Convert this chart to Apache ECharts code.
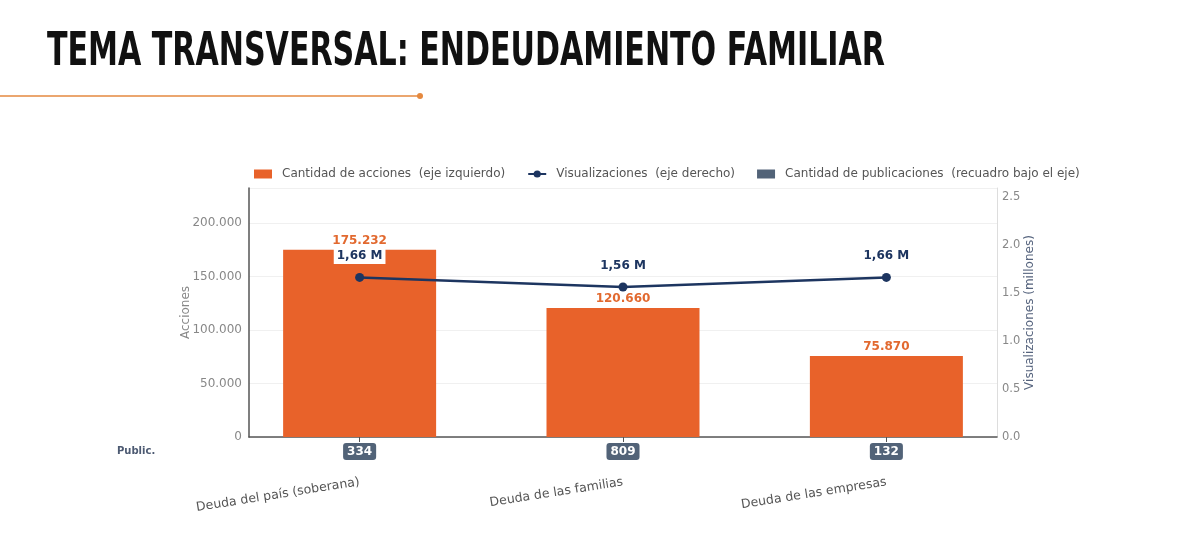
<!DOCTYPE html>
<html>
<head>
<meta charset="utf-8">
<script src="https://cdn.jsdelivr.net/npm/echarts@6/dist/echarts.min.js"></script>
<style>
html,body{margin:0;padding:0;background:#fff;}
#main{width:1200px;height:534px;}
</style>
</head>
<body>
<div id="main"></div>
<script>
// datos del grafico
var categorias = ['Deuda del país (soberana)', 'Deuda de las familias', 'Deuda de las empresas'];
var acciones = [175232, 120660, 75870];
var visualizaciones = [1.66, 1.56, 1.66]; // millones
var publicaciones = [334, 809, 132];
var ticksAcciones = [0, 50000, 100000, 150000, 200000];
var ticksVisual = [0, 0.5, 1, 1.5, 2, 2.5];

var titulo = 'TEMA TRANSVERSAL: ENDEUDAMIENTO FAMILIAR';

function miles(v){
	return String(Math.round(v)).replace(/\B(?=(\d{3})+(?!\d))/g, '.');
}

// ancho del titulo para comprimir la fuente (no hay fuente condensada)
var fuenteTitulo = 'bold 47px "DejaVu Sans"';
var cv = document.createElement('canvas').getContext('2d');
cv.font = fuenteTitulo;
var escalaTitulo = 838 / cv.measureText(titulo).width;

var idx = categorias.map(function(c, i){ return i; });

var myChart = echarts.init(document.getElementById('main'));
var option = {
	backgroundColor: '#fff',
	animation: false,
	textStyle: { fontFamily: 'DejaVu Sans' },
	graphic: [
		{
			type: 'text',
			x: 47, y: 53,
			scaleX: escalaTitulo,
			style: {
				text: titulo,
				font: fuenteTitulo,
				fill: '#111',
				verticalAlign: 'middle'
			}
		},
		{
			type: 'line',
			shape: { x1: 0, y1: 96, x2: 420, y2: 96 },
			style: { stroke: '#e5893f', lineWidth: 1.5 }
		},
		{
			type: 'circle',
			shape: { cx: 420, cy: 96, r: 3 },
			style: { fill: '#e5893f' }
		},
		{
			type: 'text',
			left: 117, top: 446,
			style: {
				text: 'Public.',
				font: 'bold 10px "DejaVu Sans"',
				fill: '#4d5a72'
			}
		}
	],
	legend: {
		top: 163,
		left: 249,
		itemWidth: 18,
		itemHeight: 9,
		itemGap: 22,
		textStyle: { color: '#555', fontSize: 12, padding: [0, 0, 0, 5] },
		data: [
			{ name: 'Cantidad de acciones  (eje izquierdo)', icon: 'rect' },
			{ name: 'Visualizaciones  (eje derecho)' },
			{ name: 'Cantidad de publicaciones  (recuadro bajo el eje)', icon: 'rect' }
		]
	},
	grid: { left: 249, right: 203, top: 188, bottom: 97 },
	xAxis: {
		type: 'value',
		min: -0.42,
		max: 2.42,
		splitLine: { show: false },
		axisLine: { show: true, onZero: false, lineStyle: { color: '#555', width: 1.5 } },
		axisTick: { show: true, length: 5, customValues: idx, lineStyle: { color: '#555' } },
		axisLabel: {
			customValues: idx,
			rotate: 9,
			margin: 45,
			color: '#555',
			fontSize: 12.5,
			formatter: function(v){ return categorias[Math.round(v)]; }
		}
	},
	yAxis: [
		{
			type: 'value',
			min: 0,
			max: 233000,
			interval: 50000,
			name: 'Acciones',
			nameLocation: 'middle',
			nameGap: 57,
			nameMoveOverlap: false,
			nameTextStyle: { color: '#888', fontSize: 12 },
			axisLine: { show: true, onZero: false, lineStyle: { color: '#555', width: 1.5 } },
			axisTick: { show: false },
			axisLabel: {
				color: '#888',
				fontSize: 12,
				margin: 7,
				showMaxLabel: false,
				formatter: function(v){ return miles(v); }
			},
			splitLine: { show: true, lineStyle: { color: '#f0f0f0' } }
		},
		{
			type: 'value',
			min: 0,
			max: 2.59,
			interval: 0.5,
			name: 'Visualizaciones (millones)',
			nameLocation: 'middle',
			nameGap: 27,
			nameMoveOverlap: false,
			nameTextStyle: { color: '#56647e', fontSize: 12 },
			axisLine: { show: true, onZero: false, lineStyle: { color: '#ddd' } },
			axisTick: { show: false },
			axisLabel: {
				color: '#888',
				fontSize: 11.5,
				margin: 5,
				showMaxLabel: false,
				formatter: function(v){ return v.toFixed(1); }
			},
			splitLine: { show: false }
		}
	],
	series: [
		{
			name: 'Cantidad de acciones  (eje izquierdo)',
			type: 'bar',
			yAxisIndex: 0,
			barWidth: 153,
			itemStyle: { color: '#e8622a' },
			label: {
				show: true,
				position: 'top',
				distance: 3,
				color: '#e2692f',
				fontWeight: 'bold',
				fontSize: 12,
				formatter: function(p){ return miles(p.value[1]); }
			},
			data: acciones.map(function(v, i){ return [i, v]; })
		},
		{
			name: 'Visualizaciones  (eje derecho)',
			type: 'line',
			yAxisIndex: 1,
			symbol: 'circle',
			symbolSize: 9,
			lineStyle: { color: '#1d3560', width: 2.5 },
			itemStyle: { color: '#1d3560' },
			label: {
				show: true,
				position: 'top',
				distance: 9,
				color: '#1d3560',
				fontWeight: 'bold',
				fontSize: 12,
				backgroundColor: '#fff',
				padding: [2, 3],
				formatter: function(p){ return p.value[1].toFixed(2).replace('.', ',') + ' M'; }
			},
			data: visualizaciones.map(function(v, i){ return [i, v]; }),
			z: 5
		},
		{
			name: 'Cantidad de publicaciones  (recuadro bajo el eje)',
			type: 'scatter',
			yAxisIndex: 0,
			symbolSize: 0.1,
			itemStyle: { color: '#526378', opacity: 1 },
			label: {
				show: true,
				position: 'bottom',
				distance: 6,
				color: '#fff',
				fontWeight: 'bold',
				fontSize: 12,
				backgroundColor: '#526378',
				borderRadius: 3,
				padding: [3, 4, 2, 4],
				formatter: function(p){ return String(p.value[2]); }
			},
			data: publicaciones.map(function(v, i){ return [i, 0, v]; }),
			z: 6
		}
	]
};
myChart.setOption(option);
</script>
</body>
</html>
